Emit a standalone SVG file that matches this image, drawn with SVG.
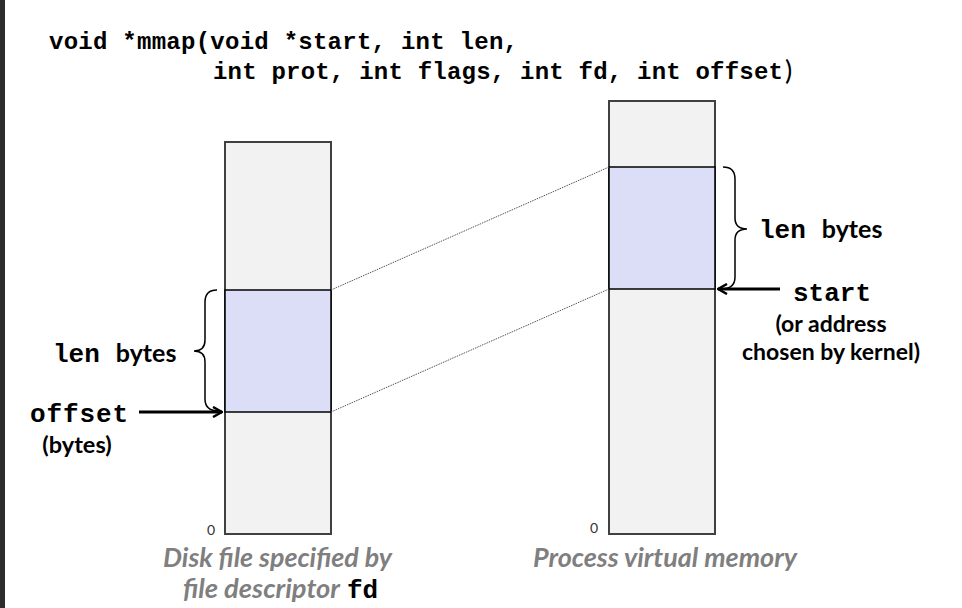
<svg xmlns="http://www.w3.org/2000/svg" width="962" height="608" viewBox="0 0 962 608">
<style>
.code{font-family:"Liberation Mono","DejaVu Sans Mono",monospace;font-weight:bold;fill:#000}
.lbl{font-family:Lato,"Open Sans","Liberation Sans",sans-serif;font-weight:bold;fill:#000}
.cap{font-family:Lato,"Open Sans","Liberation Sans",sans-serif;font-weight:bold;font-style:italic;fill:#7f7f7f;font-size:26px}
.box{fill:#f2f2f2;stroke:#404040;stroke-width:2}
.hl{fill:#dcdef8;stroke:#000;stroke-width:1.5}
.dot{stroke:#555;stroke-width:1;stroke-dasharray:1.5 1;fill:none}
.arr{stroke:#000;stroke-width:3;fill:none}
.brace{stroke:#000;stroke-width:1.5;fill:none}
.zero{font-family:Lato,"Open Sans","Liberation Sans",sans-serif;font-size:14px;fill:#333}
</style>
<defs>
<marker id="vh" viewBox="0 0 12 12" refX="11" refY="6" markerWidth="12" markerHeight="12" markerUnits="userSpaceOnUse" orient="auto">
<path d="M2,1 L11,6 L2,11" fill="none" stroke="#000" stroke-width="2.5"/>
</marker>
</defs>
<rect x="0" y="0" width="962" height="608" fill="#ffffff"/>
<rect x="0" y="0" width="5" height="608" fill="#2d2d2d"/>

<g id="signature">
<text class="code" x="49" y="49" font-size="24" textLength="469" lengthAdjust="spacing">void *mmap(void *start, int len,</text>
<text class="code" x="213" y="79" font-size="24" textLength="570" lengthAdjust="spacing">int prot, int flags, int fd, int offset</text>
<text x="785" y="80" font-family="Lato,'Open Sans',sans-serif" font-size="27" fill="#000">)</text>
</g>

<g id="disk-file">
<rect class="box" x="225" y="142" width="106" height="392"/>
<rect class="hl" x="225" y="290" width="106" height="122"/>
<text class="zero" x="207" y="535">0</text>
<text class="cap" x="163" y="567" textLength="229" lengthAdjust="spacingAndGlyphs">Disk file specified by</text>
<text class="cap" x="183" y="598" textLength="157" lengthAdjust="spacingAndGlyphs">file descriptor</text>
<text class="code" x="347" y="598" font-size="26">fd</text>
</g>

<g id="virtual-memory">
<rect class="box" x="609" y="101" width="106" height="433"/>
<rect class="hl" x="609" y="167" width="106" height="122"/>
<text class="zero" x="590" y="533">0</text>
<text class="cap" x="533" y="567" textLength="264" lengthAdjust="spacingAndGlyphs">Process virtual memory</text>
</g>

<g id="left-labels">
<path class="brace" d="M217,290 C209,290 205,294 205,302 L205,340 C205,347 201,351 194,351 C201,351 205,355 205,362 L205,399 C205,407 210,411 219,411"/>
<text x="53" y="362"><tspan class="code" font-size="26">len</tspan><tspan class="lbl" font-size="25" dx="16">bytes</tspan></text>
<text class="code" x="30" y="422" font-size="26" textLength="98" lengthAdjust="spacing">offset</text>
<text class="lbl" x="77" y="453" font-size="23.5" text-anchor="middle">(bytes)</text>
</g>

<g id="right-labels">
<path class="brace" d="M723,167 C731,167 735,171 735,179 L735,218 C735,225 739,229 747,229 C739,229 735,233 735,240 L735,277 C735,285 730,289 721,289"/>
<text x="759" y="238"><tspan class="code" font-size="26">len</tspan><tspan class="lbl" font-size="25" dx="16">bytes</tspan></text>
<text class="code" x="832" y="301" font-size="26" text-anchor="middle">start</text>
<text class="lbl" x="831" y="332" font-size="23" text-anchor="middle">(or address</text>
<text class="lbl" x="831" y="360" font-size="23" text-anchor="middle">chosen by kernel)</text>
</g>

<g id="connectors">
<line class="dot" x1="331" y1="290" x2="609" y2="167"/>
<line class="dot" x1="331" y1="412" x2="609" y2="289"/>
<line class="arr" x1="139" y1="412" x2="222" y2="412" marker-end="url(#vh)"/>
<line class="arr" x1="780" y1="289" x2="718" y2="289" marker-end="url(#vh)"/>
</g>
</svg>
